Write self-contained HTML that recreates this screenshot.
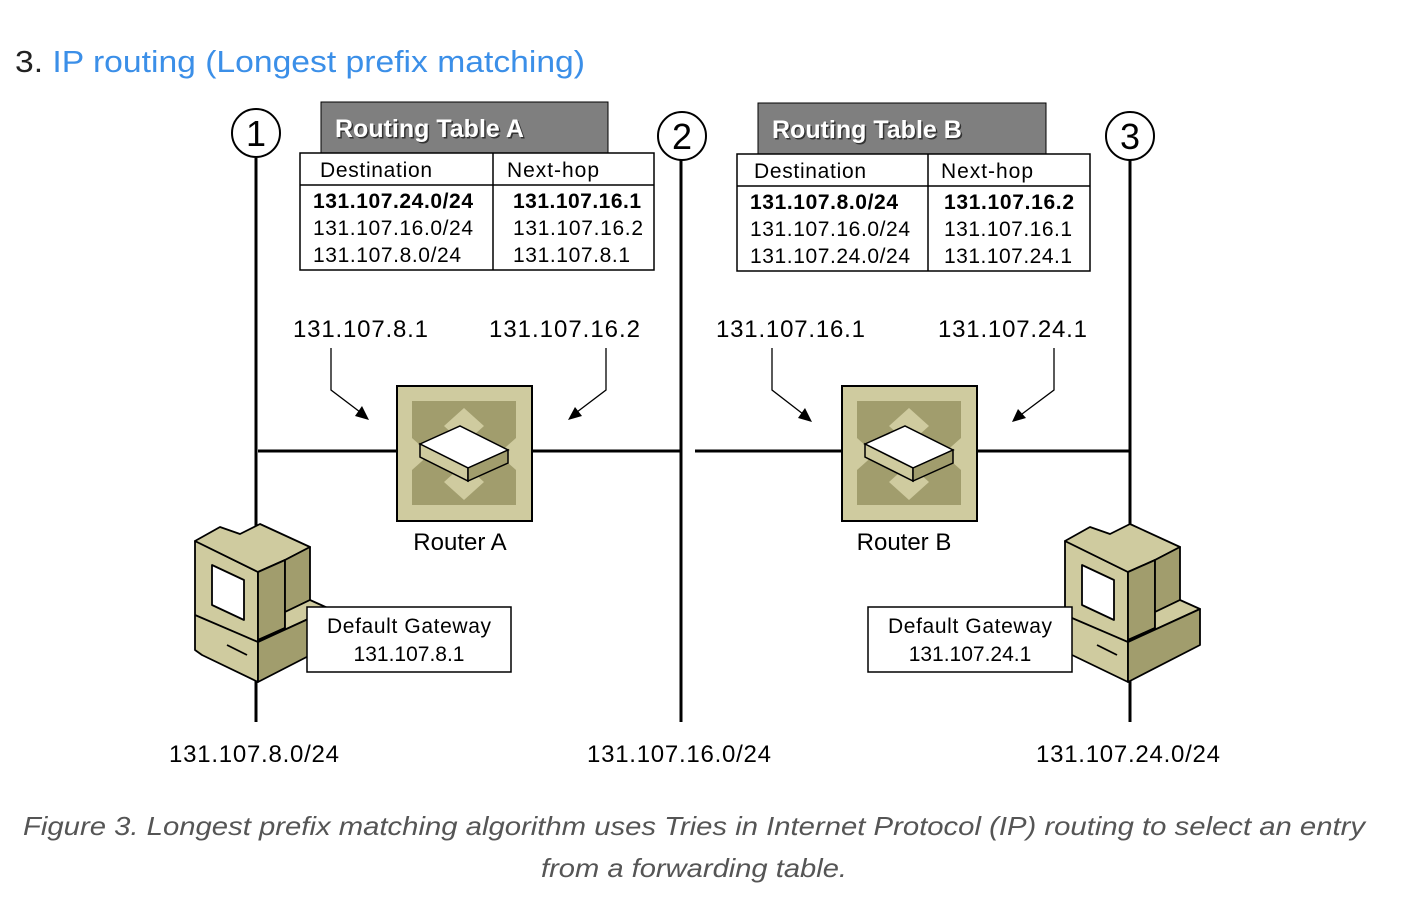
<!DOCTYPE html>
<html><head><meta charset="utf-8"><style>
body{margin:0;background:#fff;width:1402px;height:920px;overflow:hidden}
svg{display:block}
text{font-family:"Liberation Sans",sans-serif}
</style></head><body>
<svg width="1402" height="920" viewBox="0 0 1402 920" xmlns="http://www.w3.org/2000/svg">
<defs>
<g id="router">
<rect x="0" y="0" width="135" height="135" fill="#cfcb9f" stroke="#000" stroke-width="2"/>
<rect x="15" y="15" width="104" height="104" fill="#a19d6d"/>
<polygon points="67,22 87,40 67,58 47,40" fill="#cfcb9f"/>
<polygon points="67,78 87,96 67,114 47,96" fill="#cfcb9f"/>
<polygon points="15,52 33,68 15,84" fill="#cfcb9f"/>
<polygon points="119,52 101,68 119,84" fill="#cfcb9f"/>
<polygon points="23,58 63,40 111,64 71,82" fill="#fff" stroke="#000" stroke-width="1.5"/>
<polygon points="23,58 71,82 71,95 23,71" fill="#cfcb9f" stroke="#000" stroke-width="1.5"/>
<polygon points="71,82 111,64 111,77 71,95" fill="#a19d6d" stroke="#000" stroke-width="1.5"/>
</g>
<g id="pc" stroke="#000" stroke-width="1.8" stroke-linejoin="round">
<polygon points="1065,541 1128,572 1128,682 1072,655 1065,650" fill="#cfcb9f"/>
<polygon points="1065,541 1090,527 1110,534 1130,524 1180,547 1155,560 1128,572" fill="#cfcb9f"/>
<polygon points="1128,572 1155,560 1155,628 1128,640" fill="#a19d6d"/>
<polygon points="1155,560 1180,547 1180,600 1155,612" fill="#a19d6d"/>
<polygon points="1128,640 1155,628 1155,612 1180,600 1200,609 1128,642" fill="#cfcb9f"/>
<polygon points="1128,642 1200,609 1200,645 1128,682" fill="#a19d6d"/>
<polygon points="1082,565 1114,580 1114,620 1082,605" fill="#fff"/>
<line x1="1065" y1="615" x2="1128" y2="642"/>
<line x1="1097" y1="645" x2="1117" y2="655"/>
</g>
</defs>

<text x="15" y="72" font-size="31" fill="#222" textLength="570" lengthAdjust="spacingAndGlyphs">3. <tspan fill="#3b8fe8">IP routing (Longest prefix matching)</tspan></text>

<g stroke="#000" stroke-width="3">
<line x1="256" y1="158" x2="256" y2="722"/>
<line x1="681" y1="160" x2="681" y2="722"/>
<line x1="1130" y1="160" x2="1130" y2="722"/>
<line x1="258" y1="451" x2="397" y2="451"/>
<line x1="532" y1="451" x2="681" y2="451"/>
<line x1="695" y1="451" x2="842" y2="451"/>
<line x1="976" y1="451" x2="1130" y2="451"/>
</g>
<g fill="#fff" stroke="#000" stroke-width="2">
<circle cx="256" cy="133" r="24"/><circle cx="682" cy="136" r="24"/><circle cx="1130" cy="136" r="24"/>
</g>
<g font-size="36" text-anchor="middle"><text x="256" y="146">1</text><text x="682" y="149">2</text><text x="1130" y="149">3</text></g>

<rect x="321" y="102" width="287" height="51" fill="#7f7f7f" stroke="#000"/>
<text x="335" y="137" font-size="25" font-weight="bold" fill="#333" transform="translate(1.5,1.5)">Routing Table A</text>
<text x="335" y="137" font-size="25" font-weight="bold" fill="#fff">Routing Table A</text>
<rect x="300" y="153" width="354" height="117" fill="#fff" stroke="#000" stroke-width="1.5"/>
<line x1="300" y1="185" x2="654" y2="185" stroke="#000" stroke-width="1.5"/>
<line x1="493" y1="153" x2="493" y2="270" stroke="#000" stroke-width="1.5"/>
<g font-size="21">
<text x="320" y="177" textLength="112">Destination</text><text x="507" y="177" textLength="92">Next-hop</text>
<text x="313" y="208" font-weight="bold" textLength="160">131.107.24.0/24</text><text x="513" y="208" font-weight="bold" textLength="128">131.107.16.1</text>
<text x="313" y="235" textLength="160">131.107.16.0/24</text><text x="513" y="235" textLength="130">131.107.16.2</text>
<text x="313" y="262" textLength="148">131.107.8.0/24</text><text x="513" y="262" textLength="117">131.107.8.1</text>
</g>

<rect x="758" y="103" width="288" height="51" fill="#7f7f7f" stroke="#000"/>
<text x="772" y="138" font-size="25" font-weight="bold" fill="#333" transform="translate(1.5,1.5)">Routing Table B</text>
<text x="772" y="138" font-size="25" font-weight="bold" fill="#fff">Routing Table B</text>
<rect x="737" y="154" width="353" height="117" fill="#fff" stroke="#000" stroke-width="1.5"/>
<line x1="737" y1="186" x2="1090" y2="186" stroke="#000" stroke-width="1.5"/>
<line x1="928" y1="154" x2="928" y2="271" stroke="#000" stroke-width="1.5"/>
<g font-size="21">
<text x="754" y="178" textLength="112">Destination</text><text x="941" y="178" textLength="92">Next-hop</text>
<text x="750" y="209" font-weight="bold" textLength="148">131.107.8.0/24</text><text x="944" y="209" font-weight="bold" textLength="130">131.107.16.2</text>
<text x="750" y="236" textLength="160">131.107.16.0/24</text><text x="944" y="236" textLength="128">131.107.16.1</text>
<text x="750" y="263" textLength="160">131.107.24.0/24</text><text x="944" y="263" textLength="128">131.107.24.1</text>
</g>

<g font-size="24">
<text x="293" y="337" textLength="135">131.107.8.1</text><text x="489" y="337" textLength="151">131.107.16.2</text>
<text x="716" y="337" textLength="149">131.107.16.1</text><text x="938" y="337" textLength="149">131.107.24.1</text>
</g>
<g stroke="#000" stroke-width="1.3" fill="none">
<polyline points="331,348 331,390 360,412"/>
<polyline points="606,348 606,390 577,412"/>
<polyline points="772,348 772,390 803,414"/>
<polyline points="1054,348 1054,390 1022,414"/>
</g>
<g fill="#000">
<polygon points="369,420 355,416 362,406"/>
<polygon points="568,420 575,407 582,416"/>
<polygon points="812,422 798,418 805,408"/>
<polygon points="1012,422 1018,409 1026,418"/>
</g>

<use href="#router" x="397" y="386"/>
<use href="#router" x="842" y="386"/>
<g font-size="24" text-anchor="middle"><text x="460" y="550">Router A</text><text x="904" y="550">Router B</text></g>

<use href="#pc"/>
<use href="#pc" x="-870"/>

<rect x="307" y="607" width="204" height="65" fill="#fff" stroke="#000" stroke-width="1.5"/>
<rect x="868" y="607" width="204" height="65" fill="#fff" stroke="#000" stroke-width="1.5"/>
<g font-size="21" text-anchor="middle">
<text x="409" y="633" textLength="164">Default Gateway</text><text x="409" y="661">131.107.8.1</text>
<text x="970" y="633" textLength="164">Default Gateway</text><text x="970" y="661">131.107.24.1</text>
</g>

<g font-size="24" text-anchor="middle">
<text x="254" y="762" textLength="170">131.107.8.0/24</text>
<text x="679" y="762" textLength="184">131.107.16.0/24</text>
<text x="1128" y="762" textLength="184">131.107.24.0/24</text>
</g>

<g font-size="26" font-style="italic" fill="#555" text-anchor="middle">
<text x="694" y="835" textLength="1342" lengthAdjust="spacingAndGlyphs">Figure 3. Longest prefix matching algorithm uses Tries in Internet Protocol (IP) routing to select an entry</text>
<text x="694" y="877" textLength="306" lengthAdjust="spacingAndGlyphs">from a forwarding table.</text>
</g>
</svg>
</body></html>
